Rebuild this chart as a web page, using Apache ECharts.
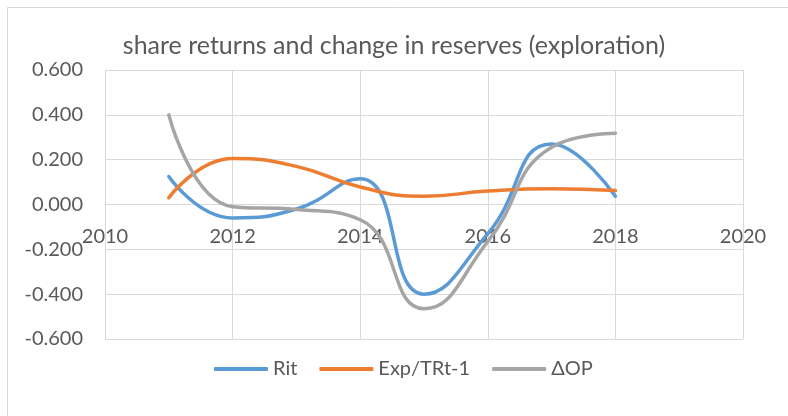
<!DOCTYPE html>
<html>
<head>
<meta charset="utf-8">
<script src="https://cdn.jsdelivr.net/npm/echarts@6/dist/echarts.min.js"></script>
<style>
html,body{margin:0;padding:0;background:#fff;}
#c{width:788px;height:416px;}
</style>
</head>
<body>
<div id="c"></div>
<script>
const years = [2011, 2012, 2013, 2014, 2015, 2016, 2017, 2018];
const rit = [0.125, -0.060, -0.020, 0.115, -0.400, -0.130, 0.270, 0.037];
const expTR = [0.030, 0.205, 0.170, 0.078, 0.037, 0.060, 0.070, 0.062];
const dOP = [0.400, -0.010, -0.022, -0.068, -0.465, -0.165, 0.255, 0.318];
const seriesNames = ['Rit', 'Exp/TRt-1', '\u0394OP'];
const colors = ['#5B9BD5', '#ED7D31', '#A5A5A5'];

const pairs = arr => years.map((y, i) => [y, arr[i]]);
const font = 'Lato';
const gridTop = 70, gridBottom = 77, H = 416;
const plotH = H - gridTop - gridBottom;
const chart = echarts.init(document.getElementById('c'));
chart.setOption({
  animation: false,
  color: colors,
  title: {
    text: 'share returns and change in reserves (exploration)',
    left: 'center', top: 28,
    textStyle: {fontFamily: font, fontWeight: 'normal', fontSize: 25, color: '#595959'}
  },
  graphic: [{type: 'rect', shape: {x: 7.5, y: 7.5, width: 790, height: 420}, style: {fill: 'none', stroke: '#d9d9d9', lineWidth: 1}, silent: true}],
  legend: {
    bottom: 32, left: 209,
    itemWidth: 54, itemHeight: 4, itemGap: 22,
    icon: 'roundRect',
    textStyle: {fontFamily: font, fontSize: 20, color: '#595959'},
    data: seriesNames
  },
  grid: {left: 105, right: 45, top: gridTop, bottom: gridBottom, containLabel: false},
  xAxis: {
    type: 'value', min: 2010, max: 2020, interval: 2,
    position: 'bottom',
    offset: -plotH / 2,
    axisLine: {show: true, onZero: false, lineStyle: {color: '#d9d9d9', width: 1}},
    axisTick: {show: false},
    axisLabel: {fontFamily: font, fontSize: 20, color: '#595959', margin: 22, formatter: v => String(v)},
    splitLine: {show: true, lineStyle: {color: '#d9d9d9', width: 1}}
  },
  yAxis: {
    type: 'value', min: -0.6, max: 0.6, interval: 0.2,
    axisLine: {show: false},
    axisTick: {show: false},
    axisLabel: {fontFamily: font, fontSize: 20, color: '#595959', margin: 22, formatter: v => v.toFixed(3)},
    splitLine: {show: true, lineStyle: {color: '#d9d9d9', width: 1}}
  },
  series: [
    {name: seriesNames[0], type: 'line', data: pairs(rit), smooth: 0.5, showSymbol: false, lineStyle: {width: 3.5, cap: 'round'}},
    {name: seriesNames[1], type: 'line', data: pairs(expTR), smooth: 0.5, showSymbol: false, lineStyle: {width: 3.5, cap: 'round'}},
    {name: seriesNames[2], type: 'line', data: pairs(dOP), smooth: 0.5, showSymbol: false, lineStyle: {width: 3.5, cap: 'round'}}
  ]
});
</script>
</body>
</html>
